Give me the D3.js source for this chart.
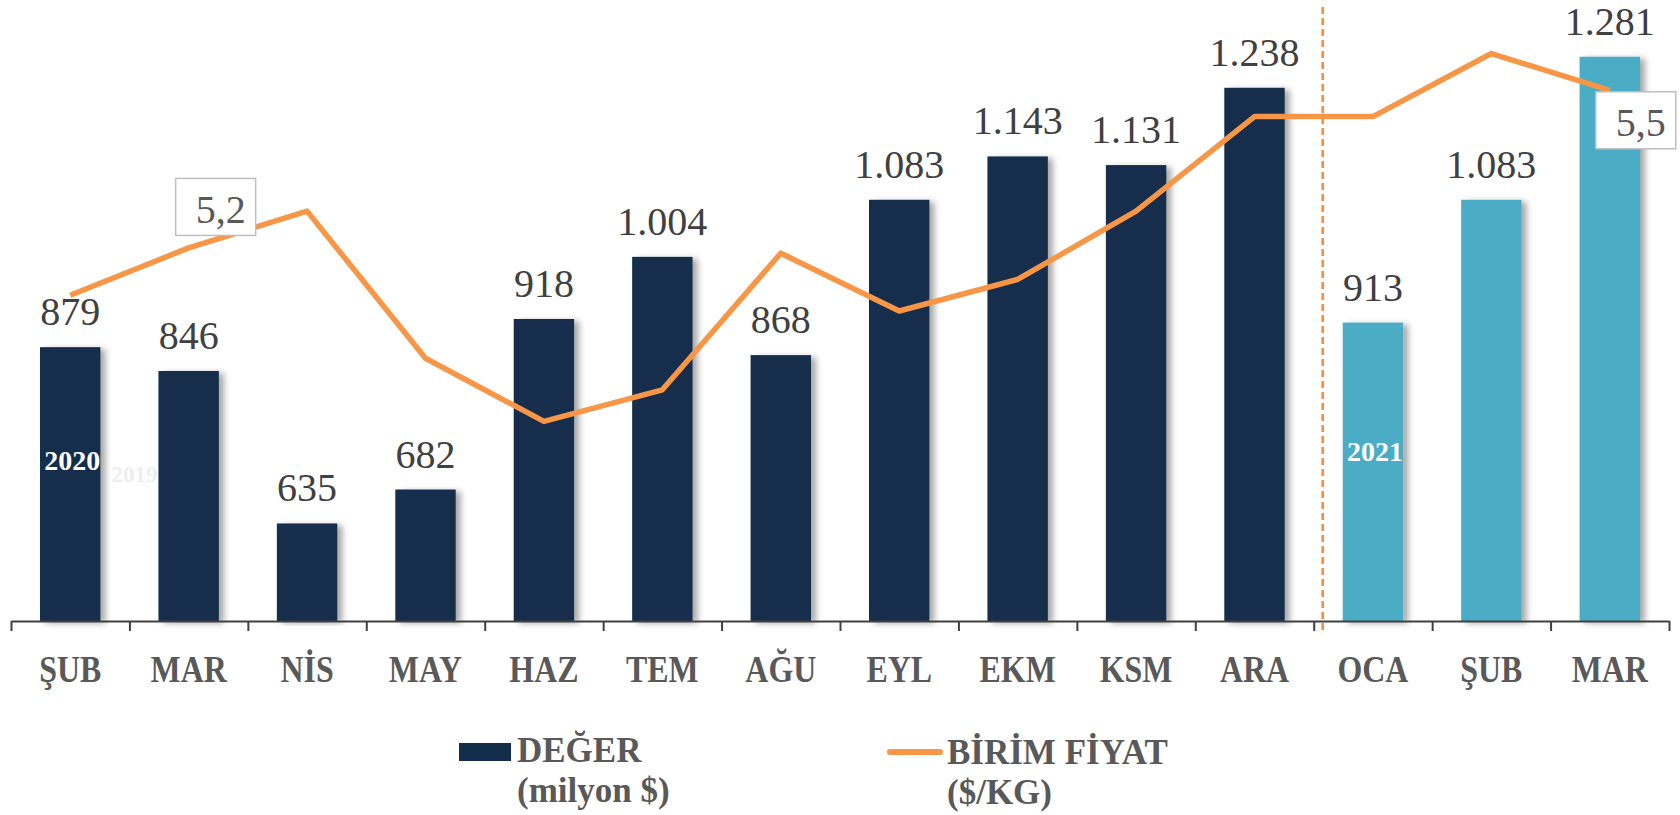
<!DOCTYPE html>
<html>
<head>
<meta charset="utf-8">
<script src="https://cdn.jsdelivr.net/npm/d3@7"></script>
<style>
  html, body { margin: 0; padding: 0; background: #fff; }
  svg { display: block; font-family: "Liberation Serif", "Times New Roman", serif; }
</style>
</head>
<body>
<script>
// months shown on the axis (Feb 2020 - Mar 2021)
const months = ["ŞUB", "MAR", "NİS", "MAY", "HAZ", "TEM", "AĞU", "EYL", "EKM", "KSM", "ARA", "OCA", "ŞUB", "MAR"];
const years = [2020, 2020, 2020, 2020, 2020, 2020, 2020, 2020, 2020, 2020, 2020, 2021, 2021, 2021];
// export value, million $
const values = [879, 846, 635, 682, 918, 1004, 868, 1083, 1143, 1131, 1238, 913, 1083, 1281];
// unit price, $/kg
const prices = [5.11, 5.20, 5.27, 4.99, 4.87, 4.93, 5.19, 5.08, 5.14, 5.27, 5.45, 5.45, 5.57, 5.50];
// price points that carry a boxed label
const priceLabels = [{ i: 1, text: "5,2" }, { i: 13, text: "5,5" }];

const width = 1680;
const height = 815;
const plotLeft = 11, plotRight = 1669, axisY = 621, plotTop = 43;

const trFormat = d3.formatLocale({ decimal: ",", thousands: ".", grouping: [3], currency: ["", ""] }).format(",d");

const svg = d3.select("body").append("svg")
  .attr("width", width)
  .attr("height", height);

// soft shadow on the right side of the bars
const defs = svg.append("defs");
const f = defs.append("filter").attr("id", "shadow")
  .attr("x", "-20%").attr("y", "-5%").attr("width", "160%").attr("height", "110%");
f.append("feDropShadow")
  .attr("dx", 5).attr("dy", 2).attr("stdDeviation", 3)
  .attr("flood-color", "#000").attr("flood-opacity", 0.35);

const idx = d3.range(months.length);

const x = d3.scaleBand()
  .domain(idx)
  .range([plotLeft, plotRight])
  .paddingInner(0.49)
  .paddingOuter(0.245);

const xEdge = d3.scaleLinear()
  .domain([0, months.length])
  .range([plotLeft, plotRight]);

const y = d3.scaleLinear()
  .domain([500, 1300])
  .range([axisY, plotTop]);

const y2 = d3.scaleLinear()
  .domain([4.49, 5.59])
  .range([axisY, plotTop]);

const color = d3.scaleOrdinal()
  .domain([2020, 2021])
  .range(["#122e4b", "#4bacc6"]);

// bars
svg.append("g")
  .selectAll("rect")
  .data(idx)
  .join("rect")
  .attr("x", i => x(i))
  .attr("y", i => y(values[i]))
  .attr("width", x.bandwidth())
  .attr("height", i => axisY - y(values[i]))
  .attr("fill", i => color(years[i]))
  .attr("filter", "url(#shadow)");

// year marks inside the bars
svg.append("text")
  .attr("x", x(0) + x.bandwidth() / 2 + 2)
  .attr("y", 470)
  .attr("text-anchor", "middle")
  .attr("font-weight", "bold")
  .attr("font-size", 28)
  .attr("fill", "#fff")
  .text("2020");

svg.append("text")
  .attr("x", xEdge(1) + 5)
  .attr("y", 482)
  .attr("text-anchor", "middle")
  .attr("font-weight", "bold")
  .attr("font-size", 23)
  .attr("fill", "#eeeeee")
  .text("2019");

svg.append("text")
  .attr("x", x(11) + x.bandwidth() / 2 + 2)
  .attr("y", 461)
  .attr("text-anchor", "middle")
  .attr("font-weight", "bold")
  .attr("font-size", 28)
  .attr("fill", "#fff")
  .text("2021");

// value labels
svg.append("g")
  .selectAll("text")
  .data(idx)
  .join("text")
  .attr("x", i => x(i) + x.bandwidth() / 2)
  .attr("y", i => y(values[i]) - 22)
  .attr("text-anchor", "middle")
  .attr("font-size", 40)
  .attr("fill", "#404040")
  .text(i => trFormat(values[i]));

// year divider
svg.append("line")
  .attr("x1", xEdge(11) + 9)
  .attr("x2", xEdge(11) + 9)
  .attr("y1", 7)
  .attr("y2", axisY + 12)
  .attr("stroke", "#f58a3c")
  .attr("stroke-width", 2.5)
  .attr("stroke-dasharray", "7,4");

// axis: boundary ticks
const axisG = svg.append("g")
  .attr("transform", `translate(0,${axisY})`)
  .call(d3.axisBottom(xEdge).tickValues(d3.range(months.length + 1)).tickSize(10).tickSizeOuter(0).tickFormat(""));
axisG.select(".domain").attr("stroke", "#404040").attr("stroke-width", 2);
axisG.selectAll(".tick line").attr("stroke", "#404040").attr("stroke-width", 2);

// axis: month labels
const labG = svg.append("g")
  .attr("transform", `translate(0,${axisY})`)
  .call(d3.axisBottom(x).tickSize(0).tickFormat(i => months[i]));
labG.select(".domain").remove();
labG.selectAll(".tick text")
  .attr("y", 0)
  .attr("dy", 0)
  .attr("font-family", "Liberation Serif, serif")
  .attr("font-weight", "bold")
  .attr("font-size", 38)
  .attr("fill", "#595959")
  .attr("transform", "translate(0,61) scale(0.84,1)");

// unit price line
const line = d3.line()
  .x(i => x(i) + x.bandwidth() / 2)
  .y(i => y2(prices[i]));

svg.append("path")
  .datum(idx)
  .attr("d", line)
  .attr("fill", "none")
  .attr("stroke", "#f79646")
  .attr("stroke-width", 5.5)
  .attr("stroke-linejoin", "round");

// boxed price labels
const boxOffset = { 1: [27, -41], 13: [26, 30] };
priceLabels.forEach(p => {
  const cx = x(p.i) + x.bandwidth() / 2 + boxOffset[p.i][0];
  const cy = y2(prices[p.i]) + boxOffset[p.i][1];
  svg.append("rect")
    .attr("x", cx - 40)
    .attr("y", cy - 28.5)
    .attr("width", 80)
    .attr("height", 57)
    .attr("fill", "#fff")
    .attr("stroke", "#bfbfbf")
    .attr("stroke-width", 1.5);
  svg.append("text")
    .attr("x", cx + 5)
    .attr("y", cy + 16)
    .attr("text-anchor", "middle")
    .attr("font-size", 40)
    .attr("fill", "#595959")
    .text(p.text);
});

// legend
const leg = svg.append("g")
  .attr("font-weight", "bold")
  .attr("font-size", 35)
  .attr("fill", "#595959");

leg.append("rect")
  .attr("x", 459).attr("y", 743)
  .attr("width", 52).attr("height", 18)
  .attr("fill", color(2020));
leg.append("text").attr("x", 517).attr("y", 762).text("DEĞER");
leg.append("text").attr("x", 517).attr("y", 802).text("(milyon $)");

leg.append("line")
  .attr("x1", 890).attr("x2", 940)
  .attr("y1", 752).attr("y2", 752)
  .attr("stroke", "#f79646")
  .attr("stroke-width", 6)
  .attr("stroke-linecap", "round");
leg.append("text").attr("x", 947).attr("y", 764).text("BİRİM FİYAT");
leg.append("text").attr("x", 947).attr("y", 804).text("($/KG)");
</script>
</body>
</html>
